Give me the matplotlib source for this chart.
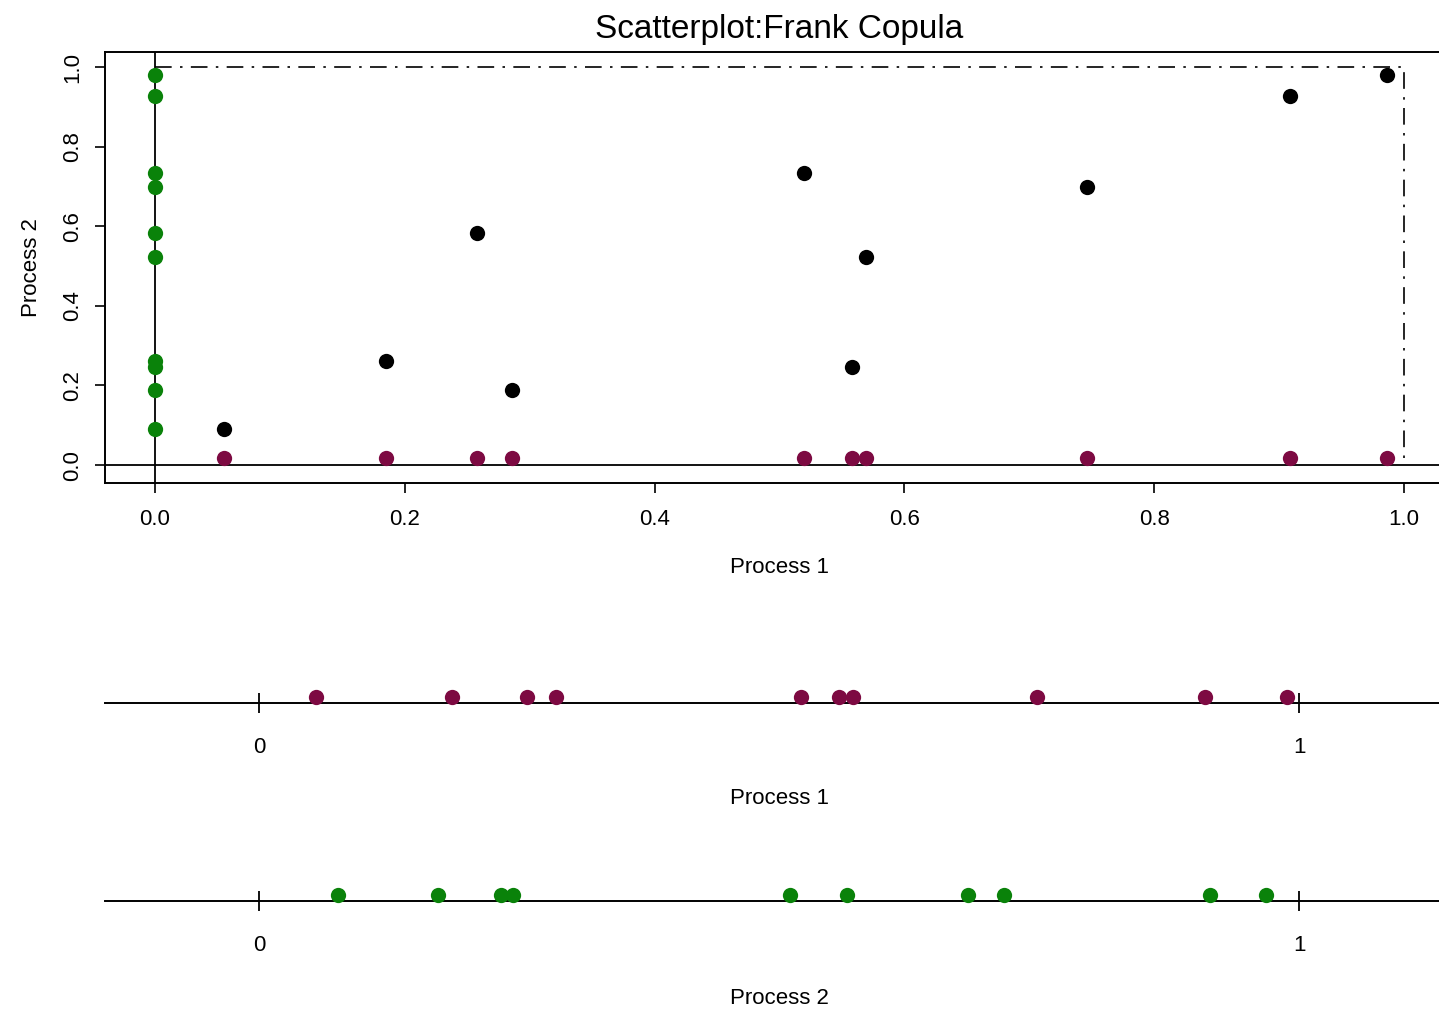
import matplotlib.pyplot as plt
import matplotlib.ticker as mticker

plt.rcParams['font.family'] = ['Liberation Sans', 'DejaVu Sans']

# copula sample: (u1, u2) pairs
u1 = [0.055, 0.185, 0.258, 0.286, 0.520, 0.558, 0.569, 0.746, 0.909, 0.986]
u2 = [0.090, 0.261, 0.583, 0.188, 0.734, 0.246, 0.523, 0.698, 0.927, 0.980]

# positions shown on the marginal strips
strip1 = [0.055, 0.186, 0.258, 0.286, 0.521, 0.558, 0.571, 0.748, 0.910, 0.988]
strip2 = [0.076, 0.172, 0.233, 0.244, 0.511, 0.565, 0.682, 0.716, 0.914, 0.968]

main_ticks = [0.0, 0.2, 0.4, 0.6, 0.8, 1.0]
strip_ticks = [0, 1]

PURPLE = '#7d0a42'
GREEN = '#0a820a'
W, H = 1439, 1011


def box(left, top, right, bottom):
    # pixel box -> figure fraction rect
    return [left / W, 1 - bottom / H, (right - left) / W, (bottom - top) / H]


fig = plt.figure(figsize=(W / 100, H / 100), dpi=100)

# ---- main scatter ----
ax = fig.add_axes(box(105, 52, 1454, 483))
ax.set_xlim(-0.04, 1.04)
ax.set_ylim(-0.045, 1.038)
ax.axvline(0, color='black', lw=1.3, zorder=1)
ax.axhline(0, color='black', lw=1.3, zorder=1)
ax.plot([0, 1, 1], [1, 1, 0], color='black', lw=1.2,
        linestyle=(0, (10, 5, 1.5, 5)), zorder=1)
ax.plot(u1, u2, 'o', color='black', ms=11, mew=0, zorder=3)
ax.plot(u1, [0.018] * len(u1), 'o', color=PURPLE, ms=11, mew=0, zorder=3)
ax.plot([0] * len(u2), u2, 'o', color=GREEN, ms=11, mew=0, zorder=3)

ax.set_xticks(main_ticks)
ax.set_yticks(main_ticks)
ax.xaxis.set_major_formatter(mticker.FormatStrFormatter('%.1f'))
ax.yaxis.set_major_formatter(mticker.FormatStrFormatter('%.1f'))
ax.tick_params(direction='out', length=7, width=1.2, labelsize=16, colors='black')
ax.tick_params(axis='x', pad=12)
ax.tick_params(axis='y', pad=9)
for lab in ax.get_yticklabels():
    lab.set_rotation(90)
    lab.set_va('center')
for sp in ax.spines.values():
    sp.set_linewidth(1.4)
ax.set_xlabel('Process 1', fontsize=16, labelpad=19)
ax.set_ylabel('Process 2', fontsize=16, labelpad=14)
ax.set_title('Scatterplot:Frank Copula', fontsize=24, pad=10)


# ---- marginal strips ----
def strip(y_line, values, color, label, label_y):
    s = fig.add_axes(box(105, y_line - 30, 1454, y_line + 30))
    s.set_xlim(-0.148, 1.149)
    s.set_ylim(-30, 30)
    for name in ['top', 'left', 'right']:
        s.spines[name].set_visible(False)
    s.spines['bottom'].set_position(('data', 0))
    s.spines['bottom'].set_linewidth(1.4)
    s.set_yticks([])
    s.set_xticks(strip_ticks)
    s.tick_params(axis='x', direction='inout', length=15, width=1.3,
                  labelsize=16, pad=17)
    s.plot(values, [6] * len(values), 'o', color=color, ms=11, mew=0,
           clip_on=False, zorder=3)
    s.patch.set_visible(False)
    fig.text(779.5 / W, 1 - label_y / H, label, fontsize=16,
             ha='center', va='center')


strip(703, strip1, PURPLE, 'Process 1', 799)
strip(901, strip2, GREEN, 'Process 2', 998)

fig.savefig('out.png', dpi=100)
